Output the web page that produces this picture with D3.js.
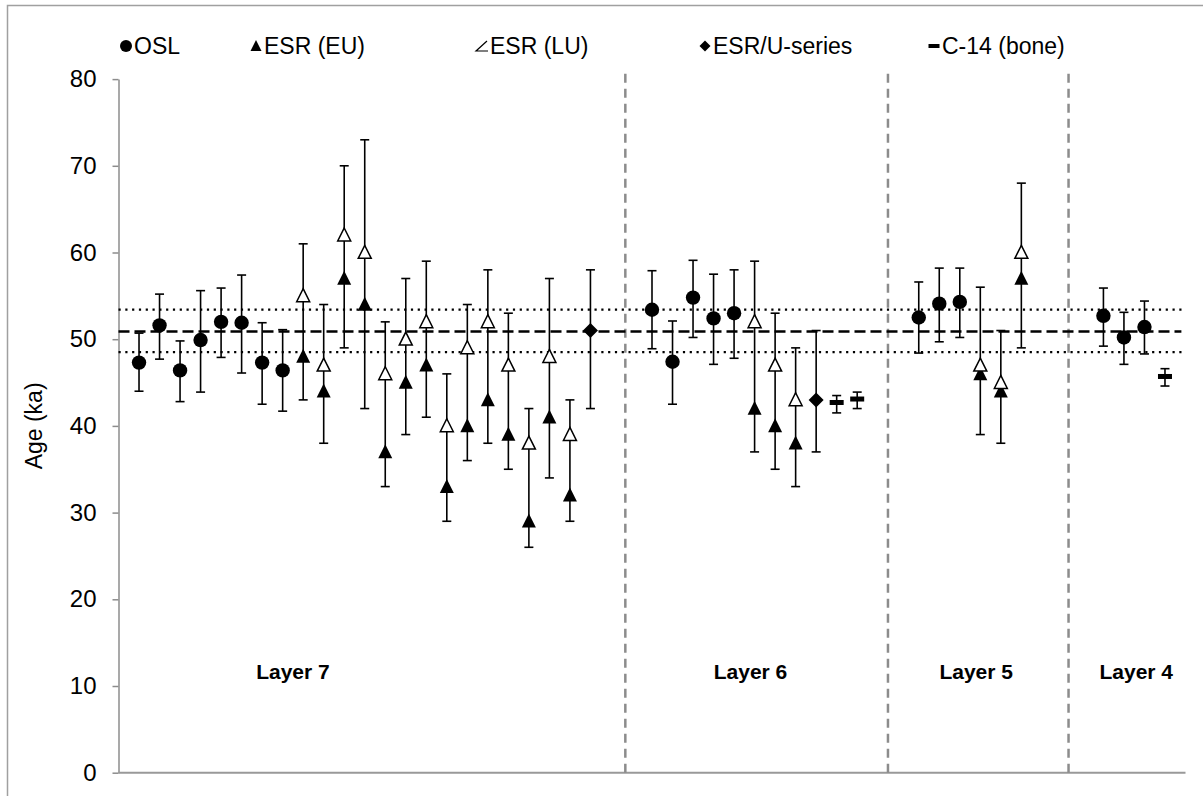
<!DOCTYPE html>
<html>
<head>
<meta charset="utf-8">
<script src="https://cdn.jsdelivr.net/npm/d3@7"></script>
<style>
  html, body { margin: 0; padding: 0; background: #fff; }
  svg { display: block; }
  text { font-family: "Liberation Sans", Arial, sans-serif; fill: #000; }
</style>
</head>
<body>
<svg id="chart" width="1203" height="796"></svg>
<script>
// ---- data ----
const yTicks = [0, 10, 20, 30, 40, 50, 60, 70, 80];

// OSL ages (ka), position index along the section
const oslX    = [1, 2, 3, 4, 5, 6, 7, 8, 26, 27, 28, 29, 30, 39, 40, 41, 48, 49, 50];
const oslAge  = [47.3, 51.6, 46.4, 49.9, 52.0, 51.9, 47.3, 46.4, 53.4, 47.4, 54.8, 52.4, 53.0, 52.5, 54.1, 54.3, 52.7, 50.2, 51.4];
const oslLow  = [44.0, 47.7, 42.8, 43.9, 47.9, 46.1, 42.5, 41.7, 48.9, 42.5, 50.2, 47.1, 47.8, 48.4, 49.7, 50.2, 49.2, 47.1, 48.3];
const oslHigh = [50.7, 55.2, 49.8, 55.6, 55.9, 57.4, 51.9, 51.1, 57.9, 52.1, 59.1, 57.5, 58.0, 56.6, 58.2, 58.2, 55.9, 53.1, 54.4];

// ESR teeth: early uptake (EU) and linear uptake (LU) ages
const esrX     = [9, 10, 11, 12, 13, 14, 15, 16, 17, 18, 19, 20, 21, 22, 31, 32, 33, 42, 43, 44];
const esrEU    = [48, 44, 57, 54, 37, 45, 47, 33, 40, 43, 39, 29, 41, 32, 42, 40, 38, 46, 44, 57];
const esrEULow = [43, 38, 49, 42, 33, 39, 41, 29, 36, 38, 35, 26, 34, 29, 37, 35, 33, 39, 38, 49];
const esrLU    = [55, 47, 62, 60, 46, 50, 52, 40, 49, 52, 47, 38, 48, 39, 52, 47, 43, 47, 45, 60];
const esrLUHigh= [61, 54, 70, 73, 52, 57, 59, 46, 54, 58, 53, 42, 57, 43, 59, 53, 49, 56, 51, 68];

// Combined ESR/U-series ages
const usX    = [23, 34];
const usAge  = [51, 43];
const usLow  = [42, 37];
const usHigh = [58, 51];

// Radiocarbon ages on bone
const c14X    = [35, 36, 51];
const c14Age  = [42.7, 43.1, 45.7];
const c14Low  = [41.5, 42.0, 44.6];
const c14High = [43.5, 43.9, 46.6];

// Weighted mean and its uncertainty band
const meanAge = 50.9;
const meanBand = [48.5, 53.4];

// Layer boundaries and names
const layerBounds = [24.7, 37.5, 46.3];
const layerNames  = ["Layer 7", "Layer 6", "Layer 5", "Layer 4"];

const legendNames = ["OSL", "ESR (EU)", "ESR (LU)", "ESR/U-series", "C-14 (bone)"];

// ---- layout ----
const layout = {
  xDomain: [0, 52], xRange: [118.5, 1185.5],
  yDomain: [0, 80], yRange: [772.7, 79.1],
  layerLabelX: [8.5, 30.8, 41.8, 49.6], layerLabelY: 10.8,
  legendY: 46,
  legendMarkerX: [126, 256, 482, 705, 934],
  legendTextX:   [134, 264, 490, 713, 942]
};

const svg = d3.select("#chart");
const x = d3.scaleLinear().domain(layout.xDomain).range(layout.xRange);
const y = d3.scaleLinear().domain(layout.yDomain).range(layout.yRange);

// outer frame (top and left edges visible)
svg.append("rect")
  .attr("x", 7.5).attr("y", 5.5).attr("width", 1220).attr("height", 820)
  .attr("fill", "none").attr("stroke", "#a0a0a0").attr("stroke-width", 1.5);

// y axis
const yAxis = d3.axisLeft(y).tickValues(yTicks).tickSize(6).tickPadding(16).tickSizeOuter(0);
const gy = svg.append("g").attr("transform", `translate(${layout.xRange[0]},0)`).call(yAxis);
gy.select(".domain").attr("stroke", "#8c8c8c").attr("stroke-width", 1.5);
gy.selectAll(".tick line").attr("stroke", "#8c8c8c").attr("stroke-width", 1.5);
gy.selectAll(".tick text").style("font-size", "24px").attr("fill", "#000")
  .style("font-family", "'Liberation Sans', Arial, sans-serif");

// x axis line
svg.append("line")
  .attr("x1", x(0)).attr("x2", x(52)).attr("y1", y(0)).attr("y2", y(0))
  .attr("stroke", "#999").attr("stroke-width", 2);

// y axis title
svg.append("text")
  .attr("transform", `translate(42,${(y(0) + y(80)) / 2}) rotate(-90)`)
  .attr("text-anchor", "middle")
  .style("font-size", "23px")
  .text("Age (ka)");

// layer boundaries
svg.append("g").selectAll("line").data(layerBounds).join("line")
  .attr("x1", d => x(d)).attr("x2", d => x(d))
  .attr("y1", y(0)).attr("y2", y(80.8))
  .attr("stroke", "#8c8c8c").attr("stroke-width", 2.5)
  .attr("stroke-dasharray", "9,6");

// mean line and band
svg.append("line")
  .attr("x1", x(0)).attr("x2", x(51.8)).attr("y1", y(meanAge)).attr("y2", y(meanAge))
  .attr("stroke", "#000").attr("stroke-width", 2.5).attr("stroke-dasharray", "11,5");
svg.append("g").selectAll("line").data(meanBand).join("line")
  .attr("x1", x(0)).attr("x2", x(51.9)).attr("y1", d => y(d)).attr("y2", d => y(d))
  .attr("stroke", "#000").attr("stroke-width", 2.2).attr("stroke-dasharray", "2.2,4.6");

// error bars
function errorBars(xs, lows, highs) {
  const g = svg.append("g").attr("stroke", "#000").attr("stroke-width", 1.6);
  const rows = xs.map((d, i) => ({ x: d, lo: lows[i], hi: highs[i] }));
  g.selectAll("line.v").data(rows).join("line").attr("class", "v")
    .attr("x1", d => x(d.x)).attr("x2", d => x(d.x))
    .attr("y1", d => y(d.lo)).attr("y2", d => y(d.hi));
  g.selectAll("line.lo").data(rows).join("line").attr("class", "lo")
    .attr("x1", d => x(d.x) - 4.5).attr("x2", d => x(d.x) + 4.5)
    .attr("y1", d => y(d.lo)).attr("y2", d => y(d.lo));
  g.selectAll("line.hi").data(rows).join("line").attr("class", "hi")
    .attr("x1", d => x(d.x) - 4.5).attr("x2", d => x(d.x) + 4.5)
    .attr("y1", d => y(d.hi)).attr("y2", d => y(d.hi));
}
errorBars(oslX, oslLow, oslHigh);
errorBars(esrX, esrEULow, esrLUHigh);
errorBars(usX, usLow, usHigh);
errorBars(c14X, c14Low, c14High);

// marker shapes
const tri = s => `M0,${-s * 0.55}L${s * 0.5},${s * 0.45}L${-s * 0.5},${s * 0.45}Z`;
const dia = s => `M0,${-s / 2}L${s / 2},0L0,${s / 2}L${-s / 2},0Z`;

// OSL circles
svg.append("g").selectAll("circle").data(oslX).join("circle")
  .attr("cx", d => x(d)).attr("cy", (d, i) => y(oslAge[i])).attr("r", 7.2)
  .attr("fill", "#000");

// ESR EU (filled) triangles
svg.append("g").selectAll("path").data(esrX).join("path")
  .attr("transform", (d, i) => `translate(${x(d)},${y(esrEU[i])})`)
  .attr("d", tri(14)).attr("fill", "#000");

// ESR LU (open) triangles
svg.append("g").selectAll("path").data(esrX).join("path")
  .attr("transform", (d, i) => `translate(${x(d)},${y(esrLU[i])})`)
  .attr("d", tri(13)).attr("fill", "#fff").attr("stroke", "#000").attr("stroke-width", 1.5);

// ESR/U-series diamonds
svg.append("g").selectAll("path").data(usX).join("path")
  .attr("transform", (d, i) => `translate(${x(d)},${y(usAge[i])})`)
  .attr("d", dia(15)).attr("fill", "#000");

// C-14 dashes
svg.append("g").selectAll("rect").data(c14X).join("rect")
  .attr("x", d => x(d) - 7).attr("y", (d, i) => y(c14Age[i]) - 2.5)
  .attr("width", 14).attr("height", 5).attr("fill", "#000");

// layer labels
svg.append("g").selectAll("text").data(layerNames).join("text")
  .attr("x", (d, i) => x(layout.layerLabelX[i])).attr("y", y(layout.layerLabelY))
  .attr("text-anchor", "middle")
  .style("font-size", "21px").style("font-weight", "bold")
  .text(d => d);

// legend
const lg = svg.append("g");
const ly = layout.legendY;
const mx = layout.legendMarkerX;
lg.append("circle").attr("cx", mx[0]).attr("cy", ly).attr("r", 6).attr("fill", "#000");
lg.append("path").attr("transform", `translate(${mx[1]},${ly})`).attr("d", tri(11)).attr("fill", "#000");
lg.append("path")
  .attr("d", `M${mx[2] + 5},${ly - 5}L${mx[2] - 6},${ly + 5}L${mx[2] + 6},${ly + 5}`)
  .attr("fill", "none").attr("stroke", "#000").attr("stroke-width", 1.2);
lg.append("path").attr("transform", `translate(${mx[3]},${ly})`).attr("d", dia(11)).attr("fill", "#000");
lg.append("rect").attr("x", mx[4] - 5.5).attr("y", ly - 2).attr("width", 11).attr("height", 4).attr("fill", "#000");
lg.selectAll("text").data(legendNames).join("text")
  .attr("x", (d, i) => layout.legendTextX[i]).attr("y", ly + 8)
  .style("font-size", "23px")
  .text(d => d);
</script>
</body>
</html>
